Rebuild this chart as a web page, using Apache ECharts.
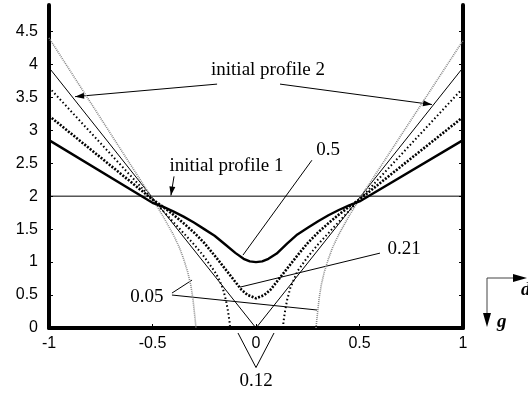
<!DOCTYPE html>
<html><head><meta charset="utf-8">
<script src="https://cdn.jsdelivr.net/npm/echarts@6/dist/echarts.min.js"></script>
<style>html,body{margin:0;padding:0;background:#fff}#c{width:528px;height:397px}</style>
</head><body><div id="c"></div>
<script>
// ---- data ----
const xTicks = [-1, -0.5, 0, 0.5, 1];
const yTicks = [0, 0.5, 1, 1.5, 2, 2.5, 3, 3.5, 4, 4.5];

// initial profile 1 (flat)
const xP1 = [-1, 1];
const yP1 = [2, 2];
// initial profile 2 (V)
const xP2 = [-1, 0, 1];
const yP2 = [3.95, 0, 3.95];
// t = 0.05 (grey fine dots)
const x005 = [-1, -0.5, -0.45, -0.4, -0.37, -0.35, -0.33, -0.315, -0.305, -0.298, -0.293, -0.29, 0,
              0.29, 0.293, 0.298, 0.305, 0.315, 0.33, 0.35, 0.37, 0.4, 0.45, 0.5, 1];
const y005 = [4.4, 1.96, 1.70, 1.42, 1.22, 1.05, 0.85, 0.65, 0.45, 0.25, 0.1, 0, null,
              0, 0.1, 0.25, 0.45, 0.65, 0.85, 1.05, 1.22, 1.42, 1.70, 1.96, 4.36];
// t = 0.12 (coarse dots)
const x012 = [-1, -0.5, -0.45, -0.4, -0.35, -0.3, -0.25, -0.2, -0.18, -0.16, -0.145, -0.135, -0.128, -0.125, 0,
              0.13, 0.133, 0.14, 0.15, 0.165, 0.185, 0.2, 0.25, 0.3, 0.35, 0.4, 0.45, 0.5, 1];
const y012 = [3.65, 1.95, 1.78, 1.61, 1.44, 1.27, 1.08, 0.86, 0.75, 0.6, 0.42, 0.25, 0.1, 0, null,
              0, 0.1, 0.25, 0.42, 0.6, 0.75, 0.86, 1.08, 1.27, 1.44, 1.61, 1.78, 1.95, 3.64];
// t = 0.21 (heavy dots)
const x021 = [-1, -0.5, -0.45, -0.4, -0.35, -0.3, -0.25, -0.2, -0.15, -0.1, -0.07, -0.04, 0,
              0.04, 0.07, 0.1, 0.15, 0.2, 0.25, 0.3, 0.35, 0.4, 0.45, 0.5, 1];
const y021 = [3.22, 1.95, 1.84, 1.72, 1.59, 1.45, 1.29, 1.1, 0.9, 0.7, 0.58, 0.5, 0.45,
              0.5, 0.58, 0.7, 0.9, 1.1, 1.29, 1.45, 1.59, 1.72, 1.84, 1.95, 3.2];
// t = 0.5 (thick solid)
const x05 = [-1, -0.5, -0.45, -0.4, -0.35, -0.3, -0.25, -0.2, -0.15, -0.1, -0.06, -0.03, 0,
             0.03, 0.06, 0.1, 0.15, 0.2, 0.25, 0.3, 0.35, 0.4, 0.45, 0.5, 1];
const y05 = [2.85, 1.9, 1.84, 1.77, 1.69, 1.6, 1.5, 1.4, 1.27, 1.14, 1.05, 1.01, 1.0,
             1.01, 1.05, 1.13, 1.28, 1.42, 1.52, 1.62, 1.71, 1.79, 1.86, 1.92, 2.85];

// annotation labels [text, x, y] in data units
const labels = [
  ['initial profile 2', 0.058, 3.91],
  ['initial profile 1', -0.143, 2.45],
  ['0.5', 0.348, 2.70],
  ['0.21', 0.715, 1.20],
  ['0.05', -0.527, 0.47],
  ['0.12', 0.0, -0.8]
];
// pointer lines [x1,y1,x2,y2,arrow]
const pointers = [
  [-0.188, 3.70, -0.874, 3.51, true],
  [0.116, 3.70, 0.85, 3.39, true],
  [-0.396, 2.30, -0.411, 2.01, true],
  [0.27, 2.545, -0.063, 1.106, false],
  [0.599, 1.136, -0.077, 0.62, false],
  [-0.406, 0.53, -0.309, 0.727, false],
  [-0.406, 0.50, 0.295, 0.273, false],
  [0.0, -0.6, -0.087, -0.076, false],
  [0.0, -0.6, 0.087, -0.076, false]
];

function pairs(xs, ys) { return xs.map((x, i) => [x, ys[i]]); }

const chart = echarts.init(document.getElementById('c'), null, {renderer: 'canvas'});
const sansFont = 'Liberation Sans';
const serifFont = 'Liberation Serif';

const axisTickCommon = {show: true, inside: true, length: 4, lineStyle: {color: '#000', width: 1}};

chart.setOption({
  animation: false,
  backgroundColor: '#fff',
  grid: {left: 49, right: 65, top: 5, bottom: 69, containLabel: false},
  xAxis: {
    type: 'value', min: -1, max: 1, interval: 0.5,
    axisLine: {show: true, onZero: false, lineStyle: {color: '#000', width: 4}},
    axisTick: Object.assign({}, axisTickCommon, {customValues: xTicks}),
    axisLabel: {customValues: xTicks, color: '#000', fontFamily: sansFont, fontSize: 16, margin: 8},
    splitLine: {show: false}
  },
  yAxis: [{
    type: 'value', min: 0, max: 4.9, position: 'left',
    axisLine: {show: true, onZero: false, lineStyle: {color: '#000', width: 4}},
    axisTick: Object.assign({}, axisTickCommon, {customValues: yTicks}),
    axisLabel: {customValues: yTicks, color: '#000', fontFamily: sansFont, fontSize: 16, margin: 11},
    splitLine: {show: false}
  }, {
    type: 'value', min: 0, max: 4.9, position: 'right',
    axisLine: {show: true, onZero: false, lineStyle: {color: '#000', width: 4}},
    axisTick: Object.assign({}, axisTickCommon, {customValues: yTicks}),
    axisLabel: {show: false},
    splitLine: {show: false}
  }],
  series: [
    {type: 'line', name: 'initial profile 1', data: pairs(xP1, yP1), symbol: 'none',
     lineStyle: {color: '#000', width: 1}},
    {type: 'line', name: 'initial profile 2', data: pairs(xP2, yP2), symbol: 'none',
     lineStyle: {color: '#000', width: 1}},
    {type: 'line', name: '0.05', data: pairs(x005, y005), symbol: 'none', connectNulls: false,
     lineStyle: {color: '#888', width: 1.6, type: [1, 1]}},
    {type: 'line', name: '0.12', data: pairs(x012, y012), symbol: 'none', connectNulls: false,
     lineStyle: {color: '#000', width: 2, type: [1.5, 2.5]}},
    {type: 'line', name: '0.21', data: pairs(x021, y021), symbol: 'none',
     lineStyle: {color: '#000', width: 2.6, type: [2, 1.5]}},
    {type: 'line', name: '0.5', data: pairs(x05, y05), symbol: 'none',
     lineStyle: {color: '#000', width: 2.4}}
  ]
});

function px(x, y) { return chart.convertToPixel({xAxisIndex: 0, yAxisIndex: 0}, [x, y]); }

const graphics = [];
labels.forEach(([t, x, y]) => {
  const p = px(x, y);
  graphics.push({type: 'text', x: p[0], y: p[1], silent: true,
    style: {text: t, fill: '#000', font: '19px "' + serifFont + '"', textAlign: 'center', textVerticalAlign: 'middle'}});
});
pointers.forEach(([x1, y1, x2, y2, arrow]) => {
  const a = px(x1, y1), b = px(x2, y2);
  graphics.push({type: 'line', silent: true, shape: {x1: a[0], y1: a[1], x2: b[0], y2: b[1]},
    style: {stroke: '#000', lineWidth: 1}});
  if (arrow) {
    const dx = b[0] - a[0], dy = b[1] - a[1], L = Math.hypot(dx, dy);
    const ux = dx / L, uy = dy / L, len = 9, w = 3;
    graphics.push({type: 'polygon', silent: true, shape: {points: [
      [b[0], b[1]],
      [b[0] - ux * len - uy * w, b[1] - uy * len + ux * w],
      [b[0] - ux * len + uy * w, b[1] - uy * len - ux * w]
    ]}, style: {fill: '#000'}});
  }
});
// direction indicator (d, g)
graphics.push({type: 'line', silent: true, shape: {x1: 487, y1: 278, x2: 487, y2: 316}, style: {stroke: '#444', lineWidth: 1}});
graphics.push({type: 'polygon', silent: true, shape: {points: [[487, 327], [483, 313], [491, 313]]}, style: {fill: '#000'}});
graphics.push({type: 'line', silent: true, shape: {x1: 487, y1: 278, x2: 514, y2: 278}, style: {stroke: '#444', lineWidth: 1}});
graphics.push({type: 'polygon', silent: true, shape: {points: [[527, 278], [513, 274], [513, 282]]}, style: {fill: '#000'}});
graphics.push({type: 'text', x: 497, y: 322, silent: true,
  style: {text: 'g', fill: '#000', font: 'italic bold 19px "' + serifFont + '"', textAlign: 'left', textVerticalAlign: 'middle'}});
graphics.push({type: 'text', x: 521, y: 290, silent: true,
  style: {text: 'd', fill: '#000', font: 'italic bold 19px "' + serifFont + '"', textAlign: 'left', textVerticalAlign: 'middle'}});

chart.setOption({graphic: graphics});
</script>
</body></html>
